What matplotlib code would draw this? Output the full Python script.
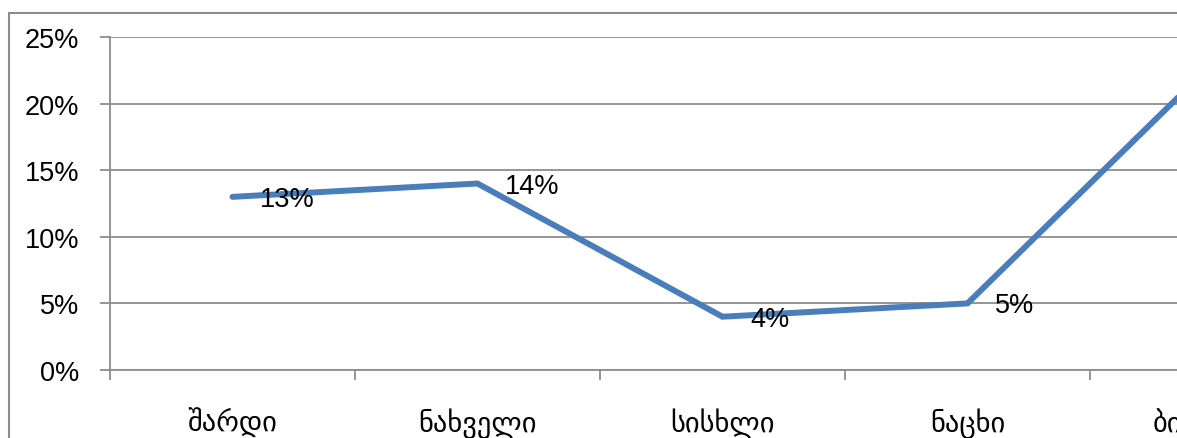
import matplotlib.pyplot as plt
from matplotlib.ticker import PercentFormatter, FixedLocator
from matplotlib.patches import Rectangle

# data (last category is cut off at the right edge)
categories = ["შარდი", "ნახველი", "სისხლი", "ნაცხი", "ბიოფსია"]
values = [13, 14, 4, 5, 23]
yticks = [0, 5, 10, 15, 20, 25]

W, H = 1177, 439
STEP = 245  # pixels per category
fig = plt.figure(figsize=(W / 100, H / 100), dpi=100)

# outer chart-area frame (only left and top edges are visible in the crop)
fig.patches.append(Rectangle((9 / W, -0.1), 1.2, 1 - 14 / H + 0.1,
                             transform=fig.transFigure, fill=False,
                             edgecolor="#8c8c8c", linewidth=1.5))

# plot area runs past the right edge of the picture (it is cropped there)
right_px = 110 + STEP * len(categories)
left, right = 110 / W, right_px / W
bottom, top = (H - 371) / H, (H - 38) / H
ax = fig.add_axes([left, bottom, right - left, top - bottom])

x = list(range(len(values)))
ax.plot(x, values, color="#4a7ebb", linewidth=4.3, solid_capstyle="round",
        solid_joinstyle="miter", zorder=3)

for xi, v in zip(x[:4], values[:4]):
    ax.annotate(f"{v}%", (xi, v), xytext=(20, -1.5), textcoords="offset points",
                ha="left", va="center", fontsize=19.5, family="Liberation Sans",
                color="black", zorder=4)

ax.yaxis.set_major_locator(FixedLocator(yticks))
ax.yaxis.set_major_formatter(PercentFormatter(100, decimals=0))
ax.grid(axis="y", color="#8c8c8c", linewidth=1.3)
ax.set_axisbelow(True)

# category boundaries as major ticks, labels on minor ticks at centres
ax.set_xticks([i - 0.5 for i in range(len(categories) + 1)])
ax.set_xticklabels([])
ax.set_xticks(x, minor=True)
ax.set_xticklabels(categories, minor=True, fontsize=20.5, family="DejaVu Sans")
ax.tick_params(axis="x", which="major", length=7, width=1.3, color="#8c8c8c",
               direction="out")
ax.tick_params(axis="x", which="minor", length=0, pad=27)
ax.tick_params(axis="y", length=7, width=1.3, color="#8c8c8c", pad=15,
               labelsize=19.5)
for lab in ax.get_yticklabels():
    lab.set_family("Liberation Sans")

ax.set_xlim(-0.5, len(categories) - 0.5)
ax.set_ylim(0, 25)

for s in ["top", "right"]:
    ax.spines[s].set_visible(False)
for s in ["left", "bottom"]:
    ax.spines[s].set_color("#8c8c8c")
    ax.spines[s].set_linewidth(1.3)

fig.savefig("out.png", dpi=100)
